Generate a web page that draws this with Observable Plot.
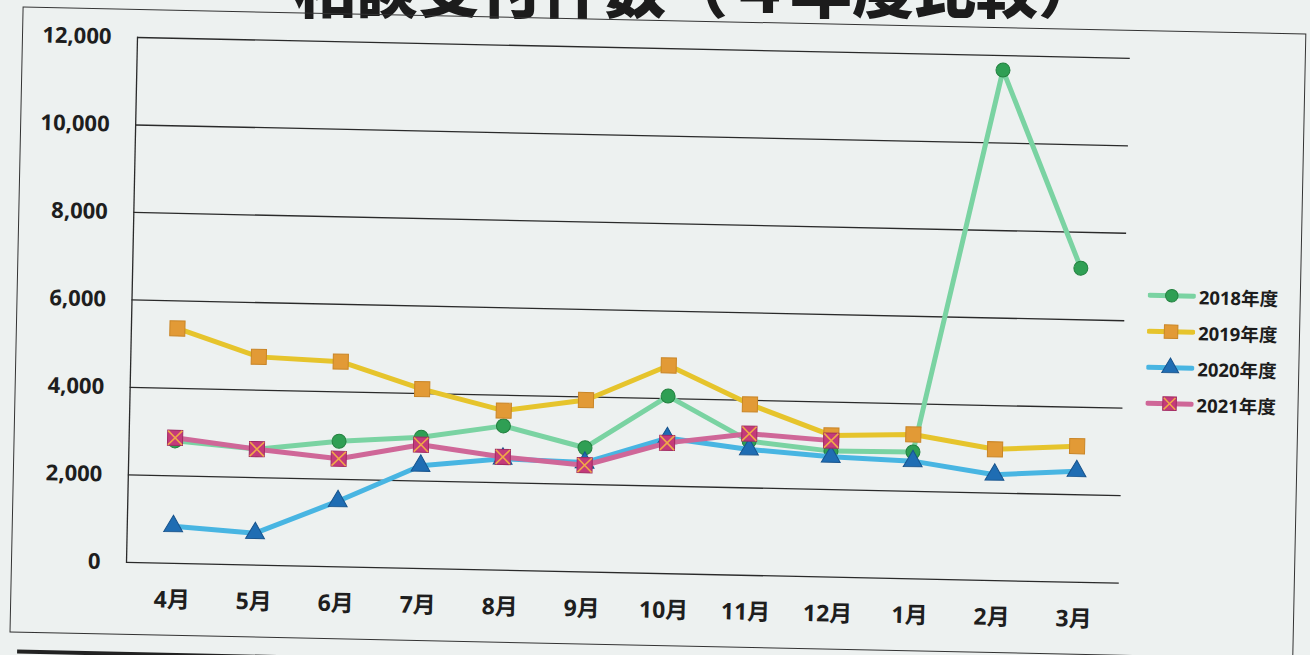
<!DOCTYPE html>
<html>
<head>
<meta charset="utf-8">
<script src="https://cdn.jsdelivr.net/npm/d3@7"></script>
<script src="https://cdn.jsdelivr.net/npm/@observablehq/plot@0.6"></script>
<style>
html,body{margin:0;padding:0;background:#edf1f0;width:1310px;height:655px;overflow:hidden;}
#title{position:absolute;left:0;top:-45px;width:1100px;text-align:right;font-family:"Noto Sans CJK JP";font-weight:900;font-size:62px;line-height:62px;color:#1c1c1c;white-space:nowrap;}
#wrap{position:absolute;left:0;top:0;width:1310px;height:655px;transform-origin:137px 37px;transform:rotate(1.2deg);}
#box{position:absolute;left:22px;top:9px;width:1284px;height:626px;border:1.5px solid #333;box-sizing:border-box;}
#bar{position:absolute;left:30px;top:652px;width:1280px;height:4px;background:#222;}
#chart{position:absolute;left:0;top:0;}
#legend{position:absolute;left:1153px;top:256px;}
.item{display:flex;align-items:center;height:36px;font-family:"Open Sans","Noto Sans CJK JP";font-weight:bold;font-size:18.5px;color:#1c1c1c;}
.item svg{margin-right:3px;}
</style>
</head>
<body>
<div id="title">相談受付件数（４年度比較）</div>
<div id="wrap">
  <div id="box"></div>
  <div id="bar"></div>
  <div id="chart"></div>
  <div id="legend"></div>
</div>
<script>
const months = ["4月","5月","6月","7月","8月","9月","10月","11月","12月","1月","2月","3月"];
const seriesNames = ["2018年度","2019年度","2020年度","2021年度"];
const v2018 = [2800,2650,2870,3000,3300,2840,4060,3070,2880,2900,11670,7180];
const v2019 = [5370,4760,4690,4100,3650,3930,4760,3910,3240,3300,3000,3110];
const v2020 = [850,730,1500,2350,2550,2500,3100,2880,2750,2690,2420,2540];
const v2021 = [2870,2650,2470,2830,2590,2440,2990,3240,3120];
const yTicks = [0,2000,4000,6000,8000,10000,12000];

const lineColors = ["#7ad3a2","#e6c42c","#48b5e2","#cf6798"];
const markerFill = ["#2f9f54","#e29a36","#1f6db3","#c43a7b"];
const markerStroke = ["#22803f","#c98526","#17538c","#a22a62"];
const symbols = ["circle","square","triangle","square"];
const radii = [7,8.5,7,8.5];
const crossColor = "#f0a848";

const allValues = [v2018,v2019,v2020,v2021];
const rows = allValues.map((vals,k) =>
  vals.map((v,i) => ({month: months[i], value: v, series: seriesNames[k]})));

const marks = [
  Plot.ruleY(yTicks, {stroke:"#2a2a2a", strokeWidth:1.3}),
  Plot.frame({anchor:"left", stroke:"#2a2a2a", strokeWidth:1.3}),
  Plot.axisY({ticks: yTicks, tickSize:0, tickPadding:26, tickFormat: d3.format(","), label:null,
    fontSize:22, fontWeight:"bold", fontFamily:"Open Sans", fill:"#1e1e1e"}),
  Plot.axisX({tickSize:0, tickPadding:28, label:null,
    fontSize:23, fontWeight:"bold", fontFamily:"Open Sans, Noto Sans CJK JP", fill:"#1e1e1e"})
];
rows.forEach((r,k) => {
  marks.push(Plot.line(r, {x:"month", y:"value", stroke: lineColors[k], strokeWidth:5, strokeLinejoin:"round", strokeLinecap:"round"}));
  marks.push(Plot.dot(r, {x:"month", y:"value", symbol: symbols[k], r: radii[k], fill: markerFill[k], stroke: markerStroke[k], strokeWidth:1}));
  if (k === 3) marks.push(Plot.dot(r, {x:"month", y:"value", symbol:"times", r:6.5, stroke: crossColor, strokeWidth:1.6}));
});

const chart = Plot.plot({
  width: 1310,
  height: 632,
  marginLeft: 137,
  marginRight: 180,
  marginTop: 37,
  marginBottom: 70,
  x: {type:"point", domain: months, padding:0.5},
  y: {domain:[0,12000]},
  style: {background:"transparent", overflow:"visible"},
  marks
});
document.getElementById("chart").appendChild(chart);

// legend
const legend = document.getElementById("legend");
seriesNames.forEach((name,k) => {
  const item = document.createElement("div");
  item.className = "item";
  const svg = d3.create("svg").attr("width",48).attr("height",22);
  svg.append("line").attr("x1",2).attr("x2",46).attr("y1",11).attr("y2",11)
    .attr("stroke", lineColors[k]).attr("stroke-width",5).attr("stroke-linecap","round");
  const sym = {circle:d3.symbolCircle, square:d3.symbolSquare, triangle:d3.symbolTriangle}[symbols[k]];
  svg.append("path").attr("transform","translate(24,11)")
    .attr("d", d3.symbol(sym, Math.PI*radii[k]*radii[k]*0.8)())
    .attr("fill", markerFill[k]).attr("stroke", markerStroke[k]);
  if (k === 3) svg.append("path").attr("transform","translate(24,11)")
    .attr("d", d3.symbol(d3.symbolTimes, Math.PI*36*0.8)())
    .attr("fill","none").attr("stroke", crossColor).attr("stroke-width",1.5);
  item.appendChild(svg.node());
  const t = document.createElement("span");
  t.textContent = name;
  item.appendChild(t);
  legend.appendChild(item);
});
</script>
</body>
</html>
